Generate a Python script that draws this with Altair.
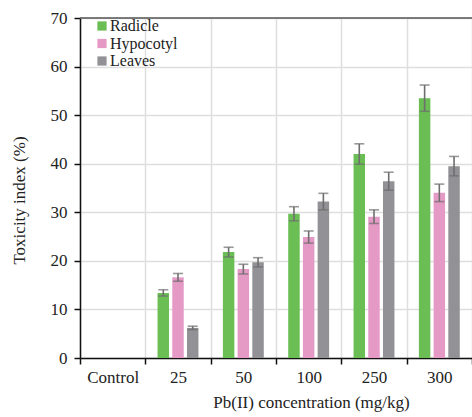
import altair as alt
import pandas as pd

categories = ["Control", "25", "50", "100", "250", "300"]
groups = ["Radicle", "Hypocotyl", "Leaves"]
radicle = [13.4, 21.8, 29.7, 42.0, 53.5]
radicle_err = [0.65, 1.0, 1.45, 2.1, 2.7]
hypocotyl = [16.6, 18.3, 24.9, 29.1, 34.0]
hypocotyl_err = [0.8, 1.0, 1.25, 1.4, 1.8]
leaves = [6.2, 19.7, 32.2, 36.4, 39.5]
leaves_err = [0.35, 0.95, 1.7, 1.85, 2.0]
colors = ["#6abe54", "#e59ac5", "#929296"]

rows = []
for g, vals, errs in zip(groups, [radicle, hypocotyl, leaves], [radicle_err, hypocotyl_err, leaves_err]):
    for c, v, e in zip(categories[1:], vals, errs):
        rows.append({"conc": c, "part": g, "value": v, "lo": v - e, "hi": v + e})
df = pd.DataFrame(rows)

FONT = "Times New Roman, Liberation Serif, serif"

xenc = alt.X("conc:N", sort=categories,
             scale=alt.Scale(domain=categories, paddingInner=0, paddingOuter=0),
             axis=alt.Axis(title="Pb(II) concentration (mg/kg)", labelAngle=0,
                           tickBand="extent", grid=True, gridColor="#dedede", gridWidth=1.5,
                           domainColor="#111", domainWidth=1.5, tickColor="#111", tickWidth=1.5,
                           tickSize=6, labelPadding=5, labelFont=FONT, labelFontSize=17,
                           labelColor="#222", titleFont=FONT, titleFontSize=17,
                           titleFontWeight="normal", titleColor="#222",
                           titleX=231, titleY=49, titleBaseline="alphabetic"))
xoff = alt.XOffset("part:N", sort=groups,
                   scale=alt.Scale(domain=groups, paddingInner=0.22, paddingOuter=0.83))
yscale = alt.Scale(domain=[0, 70], nice=False)

bars = alt.Chart(df).mark_bar().encode(
    x=xenc,
    xOffset=xoff,
    y=alt.Y("value:Q", scale=yscale,
            axis=alt.Axis(title="Toxicity index (%)", values=list(range(0, 71, 10)),
                          grid=True, gridColor="#dedede", gridWidth=1.5,
                          domainColor="#111", domainWidth=1.5, tickColor="#111",
                          tickWidth=1.5, tickSize=6, labelPadding=7, labelFont=FONT,
                          labelFontSize=17, labelColor="#222", titleFont=FONT,
                          titleFontSize=17, titleFontWeight="normal", titleColor="#222",
                          titleX=-52, titleY=182)),
    color=alt.Color("part:N", sort=groups,
                    scale=alt.Scale(domain=groups, range=colors),
                    legend=alt.Legend(title=None, orient="none", legendX=14, legendY=0,
                                      symbolType="square", symbolSize=85,
                                      symbolStrokeWidth=0, labelFont=FONT,
                                      labelFontSize=16, labelColor="#222",
                                      rowPadding=1.5, labelOffset=0)),
)

err = alt.Chart(df).mark_rule(color="#6e6e6e", strokeWidth=1.6).encode(
    x=alt.X("conc:N", sort=categories), xOffset=xoff,
    y=alt.Y("lo:Q", scale=yscale), y2="hi:Q")
cap_lo = alt.Chart(df).mark_tick(color="#6e6e6e", thickness=1.6, size=10).encode(
    x=alt.X("conc:N", sort=categories), xOffset=xoff, y=alt.Y("lo:Q", scale=yscale))
cap_hi = alt.Chart(df).mark_tick(color="#6e6e6e", thickness=1.6, size=10).encode(
    x=alt.X("conc:N", sort=categories), xOffset=xoff, y=alt.Y("hi:Q", scale=yscale))

top = alt.Chart(pd.DataFrame({"y": [70]})).mark_rule(color="#555", strokeWidth=1.5).encode(
    y=alt.Y("y:Q", scale=yscale))

chart = alt.layer(bars, err, cap_lo, cap_hi, top).properties(
    width=392, height=340,
    padding={"left": 80, "top": 18, "right": 0, "bottom": 59},
    autosize=alt.AutoSizeParams(type="none"),
).configure_view(stroke=None).configure(background="white")

chart.save("out.html", embed_options={"renderer": "svg", "actions": False})
